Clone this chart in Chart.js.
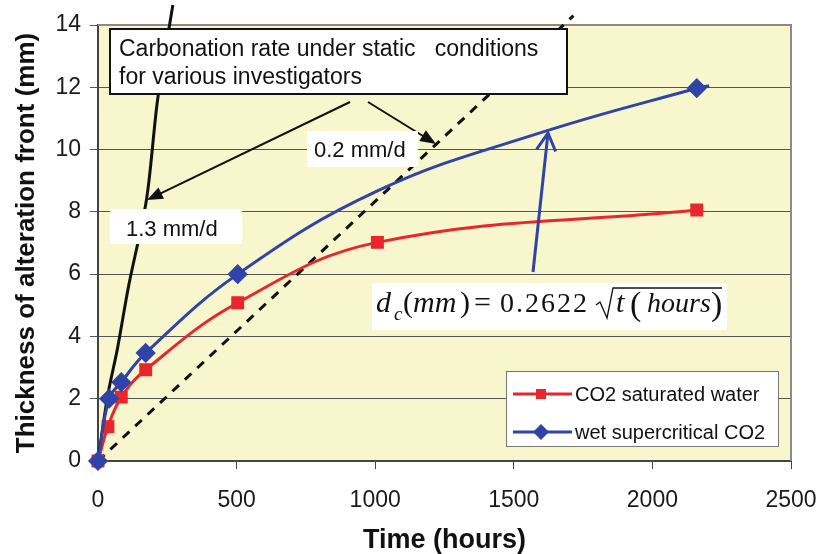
<!DOCTYPE html>
<html>
<head>
<meta charset="utf-8">
<script src="https://cdn.jsdelivr.net/npm/chart.js@4.4.1/dist/chart.umd.min.js"></script>
<style>
  html, body { margin: 0; padding: 0; background: #fff; }
  #wrap { width: 819px; height: 554px; }
</style>
</head>
<body>
<div id="wrap"><canvas id="grafico" width="819" height="554"></canvas></div>
<script>
// valores
const horasAgua = [0, 36, 84, 172, 504, 1008, 2160];
const mmAgua = [0, 1.1, 2.05, 2.93, 5.08, 7.02, 8.06];

const horasSuper = [0, 40, 84, 172, 504, 1010, 1600, 2160, 2205];
const mmSuper = [0, 2.0, 2.53, 3.47, 6.0, 8.68, 10.55, 11.97, 12.05];
const marcadoSuper = [true, true, true, true, true, false, false, true, false];

const horasTaxa13 = [0, 35, 70, 110, 175, 215, 270];
const mmTaxa13 = [0, 2.1, 3.6, 5.6, 8.4, 11.6, 14.64];

const horasTaxa02 = [0, 1715];
const mmTaxa02 = [0, 14.3];

const ticksX = [0, 500, 1000, 1500, 2000, 2500];
const ticksY = [0, 2, 4, 6, 8, 10, 12, 14];

const nomeAgua = "CO2 saturated water";
const nomeSuper = "wet supercritical CO2";

const VERMELHO = "#e8262b";
const AZUL = "#2f43a8";
const ARIAL = 'Arial, "Liberation Sans", sans-serif';
const TIMES = '"Times New Roman", "Liberation Serif", serif';

function pontos(xs, ys) {
  return xs.map((x, i) => ({ x: x, y: ys[i] }));
}

// fundo amarelo e moldura da área do gráfico
const fundo = {
  id: "fundo",
  beforeDraw(chart) {
    const { ctx, chartArea: a } = chart;
    ctx.save();
    ctx.fillStyle = "#f8f6cc";
    ctx.fillRect(a.left, a.top, a.right - a.left, a.bottom - a.top);
    ctx.restore();
  },
  beforeDatasetsDraw(chart) {
    const { ctx, chartArea: a } = chart;
    ctx.save();
    ctx.strokeStyle = "#8a8a8a";
    ctx.lineWidth = 2;
    ctx.beginPath();
    ctx.moveTo(a.left, a.top);
    ctx.lineTo(a.right, a.top);
    ctx.lineTo(a.right, a.bottom);
    ctx.stroke();
    ctx.restore();
  }
};

function seta(ctx, x1, y1, x2, y2, cor, larg, cheia) {
  const ang = Math.atan2(y2 - y1, x2 - x1);
  const comp = cheia ? 17 : 20;
  const abre = cheia ? 0.38 : 0.5;
  ctx.strokeStyle = cor;
  ctx.fillStyle = cor;
  ctx.lineWidth = larg;
  ctx.beginPath();
  ctx.moveTo(x1, y1);
  ctx.lineTo(cheia ? x2 - Math.cos(ang) * 10 : x2, cheia ? y2 - Math.sin(ang) * 10 : y2);
  ctx.stroke();
  const ax = x2 - comp * Math.cos(ang - abre), ay = y2 - comp * Math.sin(ang - abre);
  const bx = x2 - comp * Math.cos(ang + abre), by = y2 - comp * Math.sin(ang + abre);
  ctx.beginPath();
  if (cheia) {
    ctx.moveTo(x2, y2);
    ctx.lineTo(ax, ay);
    ctx.lineTo(bx, by);
    ctx.closePath();
    ctx.fill();
  } else {
    ctx.moveTo(ax, ay);
    ctx.lineTo(x2, y2);
    ctx.lineTo(bx, by);
    ctx.stroke();
  }
}

function caixaTexto(ctx, x, y, w, h, borda) {
  ctx.fillStyle = "#fff";
  ctx.fillRect(x, y, w, h);
  if (borda) {
    ctx.strokeStyle = "#111";
    ctx.lineWidth = 2;
    ctx.strokeRect(x, y, w, h);
  }
}

function letras(ctx, txt, x, y, fonte, espaco) {
  ctx.font = fonte;
  let cx = x;
  for (const ch of txt) {
    ctx.fillText(ch, cx, y);
    cx += ctx.measureText(ch).width + espaco;
  }
}

// anotações, equação e legenda
const anotacoes = {
  id: "anotacoes",
  afterDraw(chart) {
    const ctx = chart.ctx;
    ctx.save();

    caixaTexto(ctx, 110, 29, 457, 65, true);
    ctx.fillStyle = "#111";
    ctx.font = "23px " + ARIAL;
    ctx.textBaseline = "alphabetic";
    ctx.fillText("Carbonation rate under static   conditions", 119, 56);
    ctx.fillText("for various investigators", 119, 84);

    seta(ctx, 350, 102, 147, 200, "#111", 2, true);
    seta(ctx, 368, 102, 436, 144, "#111", 2, true);

    caixaTexto(ctx, 307, 131, 111, 36, false);
    caixaTexto(ctx, 110, 209, 132, 35, false);
    ctx.fillStyle = "#111";
    ctx.font = "22px " + ARIAL;
    ctx.fillText("0.2 mm/d", 314, 157);
    ctx.fillText("1.3 mm/d", 126, 236);

    // equação
    caixaTexto(ctx, 372, 283, 355, 47, false);
    ctx.fillStyle = "#111";
    letras(ctx, "d", 376, 312, "italic 30px " + TIMES, 0);
    letras(ctx, "c", 394, 320, "italic 19px " + TIMES, 0);
    letras(ctx, "(", 403, 312, "30px " + TIMES, 0);
    letras(ctx, "mm", 413, 312, "italic 30px " + TIMES, 0);
    letras(ctx, ")", 460, 312, "30px " + TIMES, 0);
    letras(ctx, "=", 474, 312, "30px " + TIMES, 0);
    letras(ctx, "0.2622", 500, 312, "28px " + TIMES, 2);
    ctx.strokeStyle = "#111";
    ctx.lineWidth = 1.3;
    ctx.beginPath();
    ctx.moveTo(596, 305);
    ctx.lineTo(600, 302);
    ctx.lineTo(607, 318);
    ctx.lineTo(613, 288);
    ctx.lineTo(722, 288);
    ctx.stroke();
    letras(ctx, "t", 616, 312, "italic 30px " + TIMES, 0);
    letras(ctx, "(", 630, 315, "34px " + TIMES, 0);
    letras(ctx, "hours", 647, 312, "italic 28px " + TIMES, 0);
    letras(ctx, ")", 711, 315, "34px " + TIMES, 0);

    seta(ctx, 533, 272, 548, 133, AZUL, 3, false);

    // legenda
    ctx.fillStyle = "#fff";
    ctx.fillRect(506, 371, 272, 75);
    ctx.strokeStyle = "#777";
    ctx.lineWidth = 1;
    ctx.strokeRect(506.5, 371.5, 272, 75);
    const linhas = [
      { y: 394, cor: VERMELHO, nome: nomeAgua, estilo: "rect" },
      { y: 432, cor: AZUL, nome: nomeSuper, estilo: "rectRot" }
    ];
    linhas.forEach((l) => {
      ctx.strokeStyle = l.cor;
      ctx.fillStyle = l.cor;
      ctx.lineWidth = 3;
      ctx.beginPath();
      ctx.moveTo(513, l.y);
      ctx.lineTo(572, l.y);
      ctx.stroke();
      ctx.beginPath();
      if (l.estilo === "rect") {
        ctx.rect(536, l.y - 5, 10, 10);
      } else {
        ctx.moveTo(541, l.y - 8);
        ctx.lineTo(549, l.y);
        ctx.lineTo(541, l.y + 8);
        ctx.lineTo(533, l.y);
        ctx.closePath();
      }
      ctx.fill();
      ctx.fillStyle = "#111";
      ctx.font = "20px " + ARIAL;
      ctx.textBaseline = "middle";
      ctx.fillText(l.nome, 575, l.y + 1);
    });

    ctx.restore();
  }
};

new Chart(document.getElementById("grafico").getContext("2d"), {
  type: "line",
  data: {
    datasets: [
      {
        label: nomeSuper,
        data: pontos(horasSuper, mmSuper),
        borderColor: AZUL,
        backgroundColor: AZUL,
        borderWidth: 3,
        pointStyle: "rectRot",
        pointRadius: marcadoSuper.map((m) => (m ? 8 : 0)),
        tension: 0.4,
        clip: false
      },
      {
        label: nomeAgua,
        data: pontos(horasAgua, mmAgua),
        borderColor: VERMELHO,
        backgroundColor: VERMELHO,
        borderWidth: 3,
        pointStyle: "rect",
        pointRadius: 7,
        tension: 0.4,
        clip: false
      },
      {
        label: "1.3 mm/d",
        data: pontos(horasTaxa13, mmTaxa13),
        borderColor: "#111",
        borderWidth: 3,
        pointRadius: 0,
        tension: 0.3,
        clip: false
      },
      {
        label: "0.2 mm/d",
        data: pontos(horasTaxa02, mmTaxa02),
        borderColor: "#111",
        borderWidth: 3,
        borderDash: [9, 8],
        pointRadius: 0,
        clip: false
      }
    ]
  },
  options: {
    responsive: false,
    animation: false,
    layout: { padding: { left: 0, right: 28, top: 25, bottom: 0 } },
    plugins: {
      legend: { display: false },
      tooltip: { enabled: false }
    },
    scales: {
      x: {
        type: "linear",
        min: 0,
        max: 2500,
        afterBuildTicks: (s) => { s.ticks = ticksX.map((v) => ({ value: v })); },
        afterFit: (s) => { s.height = 93; s.paddingLeft = 0; s.paddingRight = 0; },
        grid: { drawOnChartArea: false, drawTicks: true, tickLength: 8, color: "#444" },
        border: { color: "#444", width: 2 },
        ticks: {
          color: "#1a1a1a",
          font: { family: ARIAL, size: 23 },
          padding: 18,
          maxRotation: 0,
          callback: (v) => String(v)
        },
        title: {
          display: true,
          text: "Time (hours)",
          color: "#111",
          font: { family: ARIAL, size: 27, weight: "bold", lineHeight: 1 },
          padding: { top: 0, bottom: 0 }
        }
      },
      y: {
        min: 0,
        max: 14,
        afterBuildTicks: (s) => { s.ticks = ticksY.map((v) => ({ value: v })); },
        afterFit: (s) => { s.width = 98; s.paddingTop = 0; s.paddingBottom = 0; },
        grid: { color: "#555", lineWidth: 1, drawTicks: true, tickLength: 8 },
        border: { color: "#444", width: 2 },
        ticks: { color: "#1a1a1a", font: { family: ARIAL, size: 23 }, padding: 9 },
        title: {
          display: true,
          text: "Thickness of alteration front (mm)",
          color: "#111",
          font: { family: ARIAL, size: 26, weight: "bold" },
          padding: { top: 11, bottom: 0 }
        }
      }
    }
  },
  plugins: [fundo, anotacoes]
});
</script>
</body>
</html>
